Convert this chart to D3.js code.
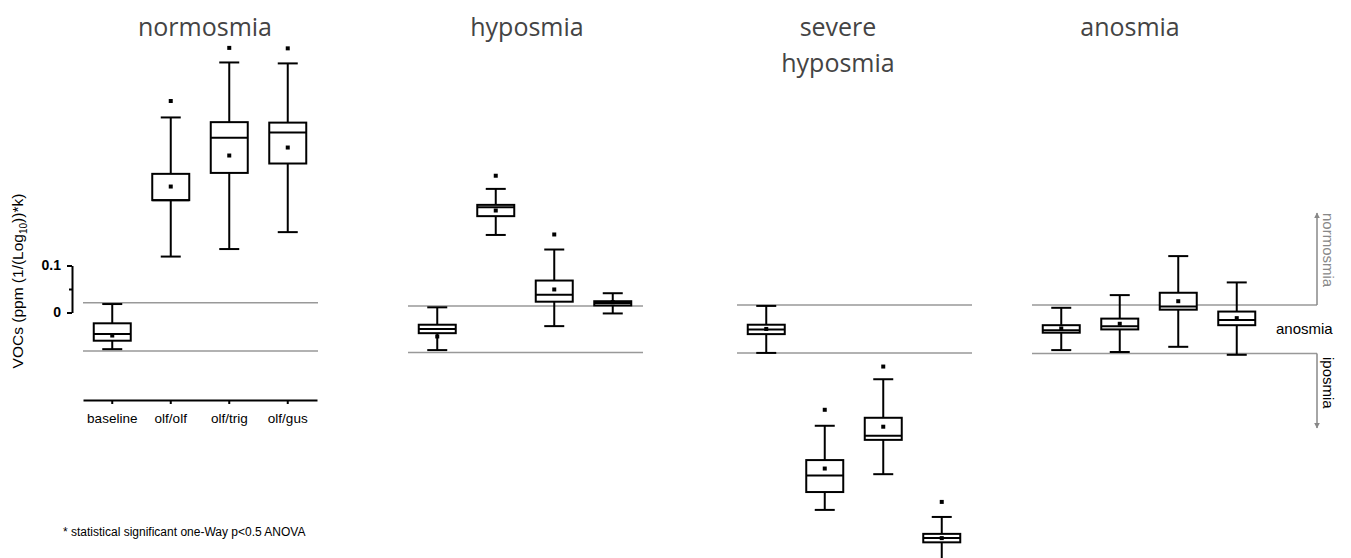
<!DOCTYPE html>
<html>
<head>
<meta charset="utf-8">
<script src="https://cdn.jsdelivr.net/npm/d3@7/dist/d3.min.js"></script>
<style>
  body { margin: 0; background: #fff; }
  svg { display: block; }
</style>
</head>
<body>
<div class="chart"></div>
<script>
// groups (panels) and conditions
var panels = ['normosmia', 'hyposmia', 'severe hyposmia', 'anosmia'];
var conditions = ['baseline', 'olf/olf', 'olf/trig', 'olf/gus'];

// box stats per panel, one entry per condition: [whiskerLow, q1, median, q3, whiskerHigh]
var boxNormosmia = [[-0.078, -0.060, -0.046, -0.023, 0.018], [0.119, 0.239, 0.239, 0.295, 0.415], [0.135, 0.297, 0.372, 0.405, 0.532], [0.171, 0.317, 0.383, 0.404, 0.530]];
var boxHyposmia = [[-0.080, -0.044, -0.035, -0.026, 0.011], [0.165, 0.205, 0.224, 0.229, 0.263], [-0.029, 0.023, 0.038, 0.068, 0.134], [-0.002, 0.015, 0.020, 0.024, 0.041]];
var boxSevere = [[-0.086, -0.046, -0.036, -0.026, 0.014], [-0.420, -0.382, -0.347, -0.314, -0.241], [-0.344, -0.271, -0.262, -0.224, -0.142], [-0.559, -0.489, -0.480, -0.471, -0.435]];
var boxAnosmia = [[-0.080, -0.043, -0.038, -0.027, 0.010], [-0.084, -0.036, -0.029, -0.013, 0.037], [-0.073, 0.006, 0.013, 0.042, 0.120], [-0.090, -0.027, -0.016, 0.002, 0.064]];

// means and outliers (null = none)
var meanNormosmia = [-0.049, 0.268, 0.334, 0.351];
var meanHyposmia = [-0.051, 0.217, 0.049, 0.022];
var meanSevere = [-0.035, -0.332, -0.243, -0.480];
var meanAnosmia = [-0.034, -0.024, 0.024, -0.012];
var outNormosmia = [null, 0.450, 0.563, 0.562];
var outHyposmia = [null, 0.291, 0.166, null];
var outSevere = [null, -0.207, -0.115, -0.403];
var outAnosmia = [null, null, null, null];

// anosmia band limits for each panel
var upperLimit = [0.021, 0.014, 0.016, 0.016];
var lowerLimit = [-0.082, -0.085, -0.086, -0.087];

var yTicks = [0, 0.05, 0.1];

var boxes = [boxNormosmia, boxHyposmia, boxSevere, boxAnosmia];
var means = [meanNormosmia, meanHyposmia, meanSevere, meanAnosmia];
var outliers = [outNormosmia, outHyposmia, outSevere, outAnosmia];

var width = 1351, height = 558;
var svg = d3.select('.chart').append('svg')
    .attr('width', width)
    .attr('height', height);

var y = d3.scaleLinear().domain([0, 0.1]).range([312.5, 265.5]);

// panel layout
var panelLeft = [83, 408, 737, 1032],
    panelWidth = 234,
    titleX = [205, 527, 838, 1130],
    boxW = 37,
    capW = 20;

panels.forEach(function (name, p) {
    var x = d3.scaleBand().domain(conditions).range([panelLeft[p], panelLeft[p] + panelWidth]);
    var g = svg.append('g').attr('class', 'panel');

    // title
    var lines = name == 'severe hyposmia' ? ['severe', 'hyposmia'] : [name];
    var t = g.append('text')
        .attr('x', titleX[p])
        .attr('y', 36)
        .attr('text-anchor', 'middle')
        .style('font-family', '"Open Sans", sans-serif')
        .style('font-size', '25px')
        .style('fill', '#444');
    lines.forEach(function (l, i) {
        t.append('tspan').attr('x', titleX[p]).attr('dy', i ? 36 : 0).text(l);
    });

    // anosmia band lines
    var lineEnd = p == 3 ? 1317 : panelLeft[p] + panelWidth + 1;
    [upperLimit[p], lowerLimit[p]].forEach(function (v) {
        g.append('line')
            .attr('x1', panelLeft[p]).attr('x2', lineEnd)
            .attr('y1', y(v)).attr('y2', y(v))
            .style('stroke', '#999').style('stroke-width', 1.5);
    });

    var data = conditions.map(function (c, i) {
        return {c: c, s: boxes[p][i], mean: means[p][i], out: outliers[p][i]};
    });

    var b = g.selectAll('.box').data(data).enter().append('g')
        .attr('class', 'box')
        .attr('transform', function (d) {
            return 'translate(' + (x(d.c) + x.bandwidth() / 2) + ',0)';
        });

    // whiskers
    b.append('line')
        .attr('y1', function (d) { return y(d.s[0]); })
        .attr('y2', function (d) { return y(d.s[1]); })
        .style('stroke', '#000').style('stroke-width', 2);
    b.append('line')
        .attr('y1', function (d) { return y(d.s[3]); })
        .attr('y2', function (d) { return y(d.s[4]); })
        .style('stroke', '#000').style('stroke-width', 2);
    [0, 4].forEach(function (k) {
        b.append('line')
            .attr('x1', -capW / 2).attr('x2', capW / 2)
            .attr('y1', function (d) { return y(d.s[k]); })
            .attr('y2', function (d) { return y(d.s[k]); })
            .style('stroke', '#000').style('stroke-width', 2);
    });

    // box
    b.append('rect')
        .attr('x', -boxW / 2)
        .attr('width', boxW)
        .attr('y', function (d) { return y(d.s[3]); })
        .attr('height', function (d) { return y(d.s[1]) - y(d.s[3]); })
        .style('fill', '#fff').style('stroke', '#000').style('stroke-width', 2);
    // median
    b.append('line')
        .attr('x1', -boxW / 2).attr('x2', boxW / 2)
        .attr('y1', function (d) { return y(d.s[2]); })
        .attr('y2', function (d) { return y(d.s[2]); })
        .style('stroke', '#000').style('stroke-width', 2);

    // mean
    b.append('rect')
        .attr('x', -2).attr('width', 4).attr('height', 4)
        .attr('y', function (d) { return y(d.mean) - 2; })
        .style('fill', '#000');
    // outlier
    b.filter(function (d) { return d.out != null; }).append('rect')
        .attr('x', -2).attr('width', 4).attr('height', 4)
        .attr('y', function (d) { return y(d.out) - 2; })
        .style('fill', '#000');

    // x axis only under first panel
    if (p == 0) {
        var xa = g.append('g')
            .attr('transform', 'translate(0,400)')
            .call(d3.axisBottom(x).tickSize(4).tickSizeOuter(0));
        xa.select('.domain').style('stroke-width', 2);
        xa.selectAll('.tick line').style('stroke-width', 2);
        xa.selectAll('text')
            .attr('dy', '1.15em')
            .style('font-family', '"Liberation Sans", Arial, sans-serif')
            .style('font-size', '13.5px')
            .style('fill', '#000');
    }
});

// y axis
var ya = svg.append('g')
    .attr('transform', 'translate(72,0)')
    .call(d3.axisLeft(y).tickValues(yTicks).tickSize(5).tickSizeOuter(0)
        .tickFormat(function (d) { return d == 0.05 ? '' : d3.format('~g')(d); }));
ya.select('.domain').style('stroke-width', 2);
ya.selectAll('.tick line')
    .style('stroke-width', 2)
    .attr('x2', function (d) { return d == 0.05 ? -3 : -5; });
ya.selectAll('text')
    .attr('x', -11)
    .style('font-family', '"Liberation Sans", Arial, sans-serif')
    .style('font-size', '14px')
    .style('font-weight', 'bold')
    .style('fill', '#000');

var yl = svg.append('text')
    .attr('transform', 'translate(23,281) rotate(-90)')
    .attr('text-anchor', 'middle')
    .style('font-family', '"Liberation Sans", Arial, sans-serif')
    .style('font-size', '15.5px')
    .style('fill', '#000');
yl.append('tspan').text('VOCs (ppm (1/(Log');
yl.append('tspan').attr('dy', 4).style('font-size', '10px').text('10');
yl.append('tspan').attr('dy', -4).text('))*k)');

// right side annotations
var defs = svg.append('defs');
defs.append('marker')
    .attr('id', 'arr')
    .attr('viewBox', '0 0 10 10')
    .attr('refX', 9).attr('refY', 5)
    .attr('markerWidth', 4).attr('markerHeight', 4)
    .attr('orient', 'auto')
    .append('path').attr('d', 'M0,0 L10,5 L0,10 Z').style('fill', '#888');

svg.append('line')
    .attr('x1', 1317).attr('x2', 1317)
    .attr('y1', y(upperLimit[3])).attr('y2', 213)
    .attr('marker-end', 'url(#arr)')
    .style('stroke', '#888').style('stroke-width', 1.5);
svg.append('line')
    .attr('x1', 1317).attr('x2', 1317)
    .attr('y1', y(lowerLimit[3])).attr('y2', 428)
    .attr('marker-end', 'url(#arr)')
    .style('stroke', '#888').style('stroke-width', 1.5);

svg.append('text')
    .attr('transform', 'translate(1323,213) rotate(90)')
    .style('font-family', '"Liberation Sans", Arial, sans-serif')
    .style('font-size', '15px')
    .style('fill', '#888')
    .text('normosmia');
svg.append('text')
    .attr('transform', 'translate(1323,357) rotate(90)')
    .style('font-family', '"Liberation Sans", Arial, sans-serif')
    .style('font-size', '15px')
    .style('fill', '#000')
    .text('iposmia');
svg.append('text')
    .attr('x', 1276).attr('y', 334)
    .style('font-family', '"Liberation Sans", Arial, sans-serif')
    .style('font-size', '15px')
    .style('fill', '#000')
    .text('anosmia');

// footnote
svg.append('text')
    .attr('x', 63).attr('y', 536)
    .style('font-family', '"Liberation Sans", Arial, sans-serif')
    .style('font-size', '12px')
    .style('fill', '#000')
    .text('* statistical significant one-Way p<0.5 ANOVA');
</script>
</body>
</html>
